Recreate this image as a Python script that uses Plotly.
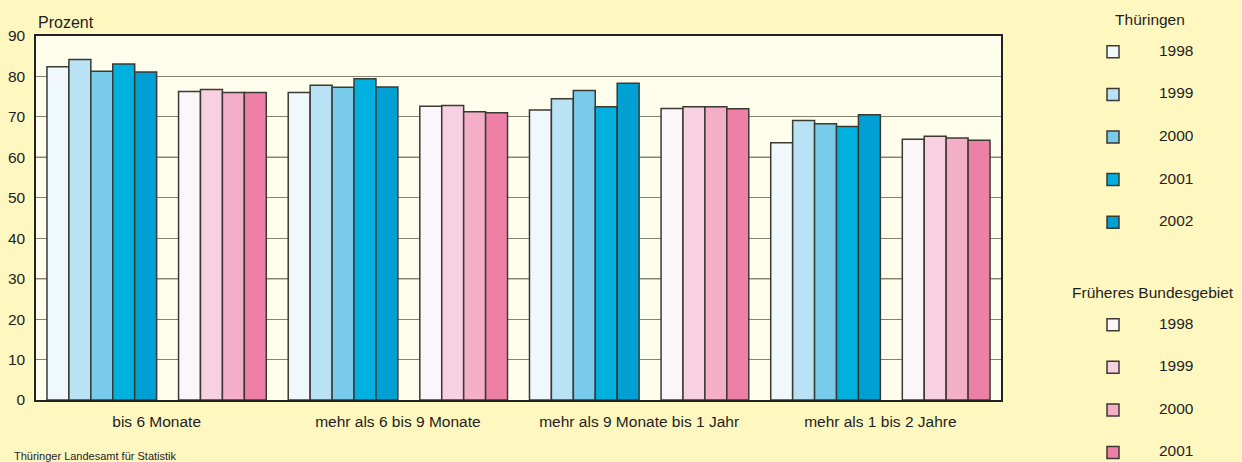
import plotly.graph_objects as go

# Duration categories on the x axis
categories = [
    "bis 6 Monate",
    "mehr als 6 bis 9 Monate",
    "mehr als 9 Monate bis 1 Jahr",
    "mehr als 1 bis 2 Jahre",
]

# Thüringen, share in percent per year
th_years = ["1998", "1999", "2000", "2001", "2002"]
th_1998 = [82.4, 76.0, 71.7, 63.6]
th_1999 = [84.2, 77.8, 74.5, 69.1]
th_2000 = [81.3, 77.3, 76.5, 68.3]
th_2001 = [83.1, 79.4, 72.5, 67.6]
th_2002 = [81.1, 77.4, 78.3, 70.5]
th_colors = ["#EFF8FD", "#B9E2F5", "#79CBEC", "#00B1E0", "#009FD4"]

# Früheres Bundesgebiet, share in percent per year
fb_years = ["1998", "1999", "2000", "2001"]
fb_1998 = [76.3, 72.6, 72.1, 64.5]
fb_1999 = [76.8, 72.8, 72.5, 65.2]
fb_2000 = [76.0, 71.3, 72.5, 64.8]
fb_2001 = [76.0, 71.0, 72.0, 64.2]
fb_colors = ["#FCF5F9", "#F8D1E1", "#F4AEC8", "#EE80A7"]

y_ticks = [0, 10, 20, 30, 40, 50, 60, 70, 80, 90]
strong_lines = [30, 60]

FONT = "Liberation Sans, Arial, sans-serif"
TEXT = "#1e1e1e"
OUTLINE = "#3a3a33"
PAPER_BG = "#FEF7BF"
PLOT_BG = "#FFFDEB"
SIZE = 15.5


def big(text):
    return "<span style='font-size:%spx'>%s</span>" % (SIZE, text)


def legend_label(year):
    # three-line label keeps the entries widely spaced with the year in the middle
    return "<br>" + big(year) + "<br>"


fig = go.Figure()

th_series = [th_1998, th_1999, th_2000, th_2001, th_2002]
for i, (year, vals, col) in enumerate(zip(th_years, th_series, th_colors)):
    fig.add_trace(go.Bar(
        x=categories, y=vals, name=legend_label(year),
        marker=dict(color=col, line=dict(color=OUTLINE, width=1.5)),
        legendgroup="th",
        legendgrouptitle=dict(text=big("&nbsp;" * 10 + "Thüringen")) if i == 0 else None,
        hovertemplate="Thüringen " + year + ": %{y}<extra></extra>",
    ))

# empty slot separating the two regions inside each category
fig.add_trace(go.Bar(
    x=categories, y=[None] * len(categories), showlegend=False,
    legendgroup="th", hoverinfo="skip",
))

fb_series = [fb_1998, fb_1999, fb_2000, fb_2001]
for i, (year, vals, col) in enumerate(zip(fb_years, fb_series, fb_colors)):
    fig.add_trace(go.Bar(
        x=categories, y=vals, name=legend_label(year),
        marker=dict(color=col, line=dict(color=OUTLINE, width=1.5)),
        legendgroup="fb",
        legendgrouptitle=dict(text=big("Früheres Bundesgebiet")) if i == 0 else None,
        hovertemplate="Früheres Bundesgebiet " + year + ": %{y}<extra></extra>",
    ))

# darker reference lines every 30 percent
for v in strong_lines:
    fig.add_shape(type="line", xref="paper", x0=0, x1=1, yref="y", y0=v, y1=v,
                  line=dict(color="#222222", width=1.2), layer="below")

fig.add_annotation(text="Prozent", xref="paper", yref="paper", x=0.0, y=1.0,
                   xanchor="left", yanchor="bottom", yshift=3, showarrow=False,
                   font=dict(size=16, color=TEXT, family=FONT))

fig.add_annotation(text="Thüringer Landesamt für Statistik", xref="paper", yref="paper",
                   x=-0.025, y=-0.153, xanchor="left", yanchor="middle", showarrow=False,
                   font=dict(size=11, color=TEXT, family=FONT))

fig.update_layout(
    width=1242, height=462,
    margin=dict(l=36, r=241, t=36, b=62),
    paper_bgcolor=PAPER_BG, plot_bgcolor=PLOT_BG,
    font=dict(family=FONT, size=SIZE, color=TEXT),
    barmode="group", bargap=1 / 11, bargroupgap=0,
    showlegend=True,
    legend=dict(
        xref="container", yref="container", x=1067 / 1242, y=1 - 6.5 / 462,
        xanchor="left", yanchor="top", bgcolor="rgba(0,0,0,0)",
        font=dict(size=10.15, color=TEXT, family=FONT),
        grouptitlefont=dict(size=10.15, color=TEXT, family=FONT),
        itemwidth=82, tracegroupgap=41, traceorder="grouped",
        maxheight=800,
        itemclick=False, itemdoubleclick=False,
    ),
    xaxis=dict(
        type="category", categoryorder="array", categoryarray=categories,
        showline=True, mirror=True, linecolor="#222222", linewidth=1.5,
        ticks="", ticklabelstandoff=7, showgrid=False, zeroline=False,
        tickfont=dict(size=SIZE, color=TEXT), automargin=False,
    ),
    yaxis=dict(
        range=[0, 90], tickvals=y_ticks, showgrid=True, gridcolor="#85826f", gridwidth=1,
        showline=True, mirror=True, linecolor="#222222", linewidth=1.5,
        ticks="", ticklabelstandoff=6, zeroline=False, tickfont=dict(size=SIZE, color=TEXT),
        automargin=False,
    ),
)

fig.write_html("out.html")
